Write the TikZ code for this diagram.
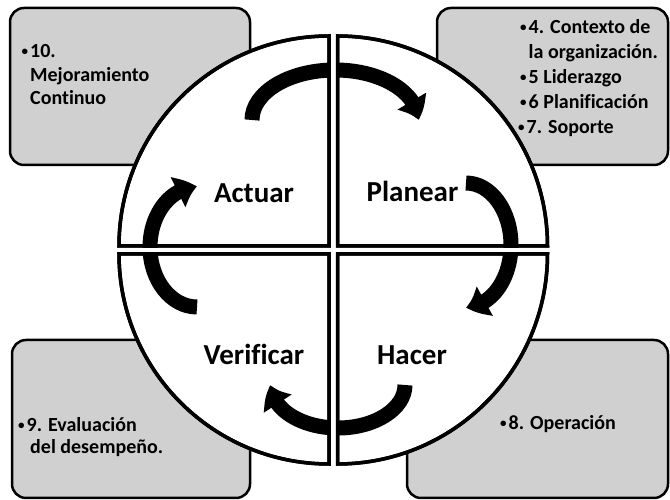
\documentclass[tikz,border=0pt]{standalone}
\usepackage{fontspec}
\setmainfont{Carlito}[Ligatures=CommonOff]
\usetikzlibrary{arrows.meta,bending}
\definecolor{boxgray}{RGB}{208,208,208}
\newcommand\mybul{\makebox[8.5pt][l]{\raisebox{2pt}{\fontsize{13}{13}\selectfont•}}}
\begin{document}
\begin{tikzpicture}[x=1pt,y=1pt,
  infobox/.style={draw=black,line width=2.5pt,fill=boxgray,rounded corners=14pt},
  quad/.style={draw=black,line width=3.5pt,fill=white},
  quadline/.style={draw=black,line width=3.5pt},
  cyc/.style={line width=15pt,-{Triangle[length=20pt,width=32pt,bend]}},
  phase/.style={font=\fontsize{29}{34}\selectfont\bfseries,inner sep=0pt,anchor=base},
  item/.style={font=\fontsize{20}{24}\selectfont\bfseries,inner sep=0pt,anchor=base west}]
\useasboundingbox (0,0) rectangle (670,500);
% info boxes
\draw[infobox] (10,335) rectangle (250,492);
\draw[infobox] (437,335) rectangle (668,492);
\draw[infobox] (12,2) rectangle (250,160);
\draw[infobox] (407,2) rectangle (668,160);
% quadrants
\path[quad] (329,254) -- (119,254) arc[start angle=180,end angle=90,radius=210pt] -- cycle;
\path[quad] (337.5,254) -- (337.5,464) arc[start angle=90,end angle=0,radius=210pt] -- cycle;
\path[quad] (329,246) -- (119,246) arc[start angle=180,end angle=270,radius=210pt] -- cycle;
\path[quad] (337.5,246) -- (547.5,246) arc[start angle=0,end angle=-90,radius=210pt] -- cycle;
% phase labels
\node[phase] (actuar) at (254,297) {Actuar};
\node[phase] (planear) at (412.5,298) {Planear};
\node[phase] (verificar) at (254,135) {Verificar};
\node[phase] (hacer) at (412,135) {Hacer};
% cycle arrows
\draw[cyc] (252,380) arc[start angle=180,end angle=0,x radius=83pt,y radius=50pt];
\draw[cyc] (466,317) arc[start angle=90,end angle=-90,x radius=45pt,y radius=62pt];
\draw[cyc] (405,115) arc[start angle=0,end angle=-180,x radius=67pt,y radius=43pt];
\draw[cyc] (197,193) arc[start angle=270,end angle=90,x radius=47pt,y radius=60pt];
% gaps between quadrants
\fill[white] (331,30) rectangle (335.5,470);
\fill[white] (110,248) rectangle (556,252);
\path[quadline] (329,254) -- (119,254) arc[start angle=180,end angle=90,radius=210pt] -- cycle;
\path[quadline] (337.5,254) -- (337.5,464) arc[start angle=90,end angle=0,radius=210pt] -- cycle;
\path[quadline] (329,246) -- (119,246) arc[start angle=180,end angle=270,radius=210pt] -- cycle;
\path[quadline] (337.5,246) -- (547.5,246) arc[start angle=0,end angle=-90,radius=210pt] -- cycle;
% box texts
\node[item] (tl1) at (21.5,442) {\mybul10.};
\node[item] (tl2) at (30,418.7) {Mejoramiento};
\node[item] (tl3) at (30,395.3) {Continuo};
\node[item] (tr1) at (520,466) {\mybul4. Contexto de};
\node[item] (tr2) at (528.5,441) {la organización.};
\node[item] (tr3) at (520,416) {\mybul5 Liderazgo};
\node[item] (tr4) at (520,391) {\mybul6 Planificación};
\node[item] (tr5) at (518,366) {\mybul7. Soporte};
\node[item] (bl1) at (18,68) {\mybul9. Evaluación};
\node[item] (bl2) at (30,46.5) {del desempeño.};
\node[item] (br1) at (500,70) {\mybul8. Operación};
\end{tikzpicture}
\end{document}
